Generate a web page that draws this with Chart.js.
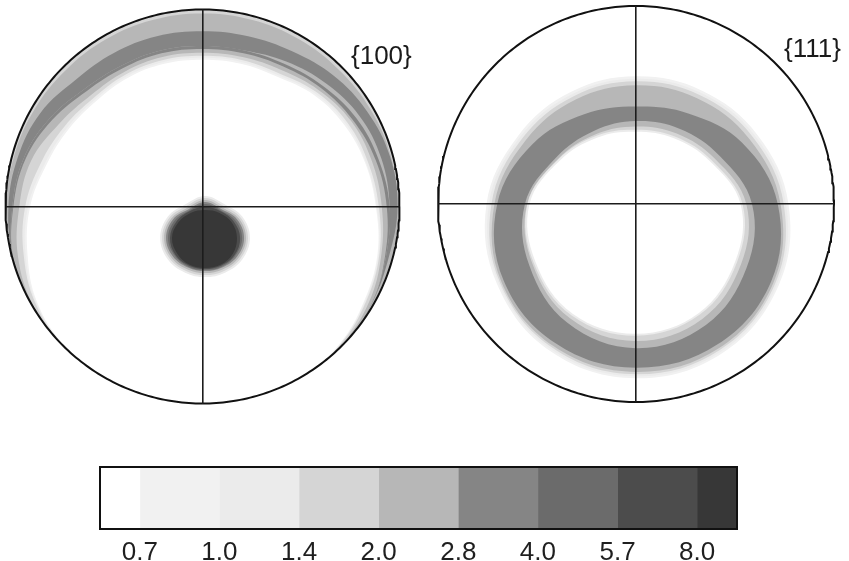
<!DOCTYPE html>
<html><head><meta charset="utf-8">
<script src="https://cdn.jsdelivr.net/npm/chart.js@4.4.1/dist/chart.umd.min.js"></script>
<style>
html,body{margin:0;padding:0;background:#fff;width:849px;height:561px;overflow:hidden;position:relative;}
canvas{position:absolute;}
.lbl{position:absolute;font-family:"Liberation Sans",Arial,sans-serif;font-size:26px;color:#1a1a1a;line-height:1;white-space:nowrap;}
</style></head><body>
<canvas id="pf100" width="420" height="420" style="left:0;top:0"></canvas>
<canvas id="pf111" width="419" height="420" style="left:430px;top:0"></canvas>
<canvas id="cbar" width="740" height="125" style="left:50px;top:455px"></canvas>
<div class="lbl" id="lbl100" style="left:351px;top:42px"></div>
<div class="lbl" id="lbl111" style="left:784px;top:35px"></div>
<script>
// ---------- DATA (radii in % of pole-figure radius, azimuth in degrees, 0 = east, CCW) ----------
const POLE_LABELS = ['{100}', '{111}'];
const LEVEL_LABELS = ['0.7', '1.0', '1.4', '2.0', '2.8', '4.0', '5.7', '8.0'];

const AZ24 = [0,15,30,45,60,75,90,105,120,135,150,165,180,195,210,225,240,255,270,285,300,315,330,345];
const AZ12 = [0,30,60,90,120,150,180,210,240,270,300,330];

// {100}: intensity band along the rim (contour boundaries, outer to inner)
const PF100_EDGE   = [100,100,100,100,100,100,100,100,100,100,100,100,100,100,100,100,100,100,100,100,100,100,100,100];
const PF100_R20OUT = [99.5,99,98.5,98,98,98,98,98,98,98,98.5,99,99.5,99.5,100,100,100,100,100,100,100,100,99.5,99.5];
const PF100_R28    = [99,98.5,96.5,94,91,89.5,89,89.5,90,91,95,97,98.5,99.5,100,100,100,100,100,100,100,100,99,98];
const PF100_R20MID = [95,94,92,88.5,85,82,81.5,82,82.5,84.5,89.5,94,96.5,99.5,100,100,100,100,100,100,100,100,99,96.5];
const PF100_R28B   = [95,92.5,90,86.5,83.5,82,81.5,82,82.5,84.5,89.5,94,96.5,99.5,100,100,100,100,100,100,100,100,99,96.5];
const PF100_R20IN  = [93.5,91,88,85,82,80.5,80,80.5,81,83,88,93,96,99.5,100,100,100,100,100,100,100,100,99,96];
const PF100_R14IN  = [91,89,87,83.5,80,78.5,78,78.5,79,80,84,90,93,97,99.5,100,100,100,100,100,100,99.5,97.5,94];
const PF100_R10IN  = [89.5,87,85,82,78,77,76.5,77,77.5,78,81,85,90,94,98,100,100,100,100,100,100,99,96,93];
const PF100_R07IN  = [88.5,86,84,81,77,76,75.5,76,76.5,77,79.5,83,88.5,93,97.5,99.8,100,100,100,100,100,98.8,95.5,92.5];
const PF100_WHITE  = [88,85.5,83,80,76,75,74.5,75,75.5,76,78.5,82,87.5,92,97,99.5,100,100,100,100,100,98.5,95,92];
// {100}: central maximum (radii around its own centre)
const BLOB_CENTER = [1.3, -16];
const BLOB_R10 = [22.8,21.8,19.8,21.3,19.8,21.8,22.8,21.8,20.3,19.8,20.3,21.8];
const BLOB_R14 = [21.8,20.8,18.8,20.3,18.8,20.8,21.8,20.8,19.3,18.8,19.3,20.8];
const BLOB_R20 = [20.8,19.8,17.8,19.3,17.8,19.8,20.8,19.8,18.3,17.8,18.3,19.8];
const BLOB_R28 = [19.8,18.8,16.8,18.3,16.8,18.8,19.8,18.8,17.3,16.8,17.3,18.8];
const BLOB_R40 = [18.8,17.8,16.2,17.3,16.2,17.8,18.8,17.8,16.8,16.2,16.8,17.8];
const BLOB_R57 = [17.8,16.8,15.7,15.7,15.7,16.8,17.8,17.3,16.2,15.7,16.2,17.3];
const BLOB_R80 = [16.2,15.7,14.7,14.2,14.7,15.7,16.8,16.2,15.7,15.2,15.7,16.2];

// {111}: ring (outer boundaries then inner boundaries)
const PF111_R07  = [77,70.5,66.2,64.5,65.4,68.8,75.5,81,86,88,87,83];
const PF111_R10  = [75.8,69.3,65,63.3,64.2,67.6,74.3,80,85,87,86,82];
const PF111_R14  = [74.6,68,63.7,62,62.9,66.3,73,79.3,84,86,85,81];
const PF111_R20  = [73,66,61.7,60,60.9,64.3,71.5,78.5,83,84.8,84,80];
const PF111_R28  = [71.6,61.9,52.8,49.2,52.3,60.4,70.1,77.2,81.2,82.7,82,78.7];
const PF111_R20IN = [58.6,48.7,43.9,41.9,42.6,46.7,56.1,62.2,69.3,72.8,70.6,64.5];
const PF111_R14IN = [55.7,45.9,41.1,39.2,40.7,45.5,55,60.4,66.7,69.2,67,61.2];
const PF111_R10IN = [53.8,44.1,39.3,37.5,39.8,45.2,54.8,59.6,65,66.5,64.5,58.9];
const PF111_WHITE = [52.8,43.1,38.3,36.5,38.8,44.2,53.8,58.6,64,65.5,63.5,57.9];

// ---------- STYLE ----------
const GRAYS = ['#ffffff','#f1f1f1','#ebebeb','#d5d5d5','#b7b7b7','#858585','#6b6b6b','#4c4c4c','#373737'];
const G = {w:0, l07:1, l10:2, l14:3, l20:4, l28:5, l40:6, l57:7, l80:8};
const FONT = '"Liberation Sans", Arial, sans-serif';

document.getElementById('lbl100').textContent = POLE_LABELS[0];
document.getElementById('lbl111').textContent = POLE_LABELS[1];

// ---------- helpers ----------
function polar(az, r, c) {
  const cx = c ? c[0] / 100 : 0, cy = c ? c[1] / 100 : 0;
  const pts = az.map((a, i) => ({
    x: cx + r[i] / 100 * Math.cos(a * Math.PI / 180),
    y: cy + r[i] / 100 * Math.sin(a * Math.PI / 180)
  }));
  const n = pts.length;
  // wrap so the smoothed curve closes without a seam
  return [pts[n - 1]].concat(pts, [pts[0], pts[1]]);
}
function shape(pts, gray, order) {
  return {data: pts, showLine: true, fill: 'shape', backgroundColor: GRAYS[gray],
          borderWidth: 0, pointRadius: 0, tension: 0.38, order, clip: false};
}
function outline() {
  const pts = [];
  for (let a = 0; a <= 360; a += 1) pts.push({x: Math.cos(a * Math.PI / 180), y: Math.sin(a * Math.PI / 180)});
  return {data: pts, showLine: true, fill: false, borderColor: '#111', borderWidth: 2,
          pointRadius: 0, tension: 0, order: 0, clip: false};
}
function buildDatasets(layers) {
  const n = layers.length;
  const ds = layers.map((L, i) => shape(polar(L.az, L.r, L.c), L.g, n - i + 1));
  ds.push(outline());
  return ds;
}
function poleScale() {
  return {type: 'linear', min: -1, max: 1, display: true,
          grid: {color: '#1c1c1c', lineWidth: 1.6, drawTicks: false, z: 1},
          border: {display: false}, ticks: {display: false},
          afterBuildTicks: s => { s.ticks = [{value: 0}]; }};
}
function poleChart(id, layers, pad) {
  return new Chart(document.getElementById(id), {
    type: 'scatter',
    data: {datasets: buildDatasets(layers)},
    options: {responsive: false, animation: false, events: [],
      layout: {padding: pad},
      plugins: {legend: {display: false}, tooltip: {enabled: false}, title: {display: false}},
      scales: {x: poleScale(), y: poleScale()}}
  });
}

// ---------- {100} ----------
poleChart('pf100', [
  {az: AZ24, r: PF100_EDGE,   g: G.l14},
  {az: AZ24, r: PF100_R20OUT, g: G.l20},
  {az: AZ24, r: PF100_R28,    g: G.l28},
  {az: AZ24, r: PF100_R20MID, g: G.l20},
  {az: AZ24, r: PF100_R28B,   g: G.l28},
  {az: AZ24, r: PF100_R20IN,  g: G.l20},
  {az: AZ24, r: PF100_R14IN,  g: G.l14},
  {az: AZ24, r: PF100_R10IN,  g: G.l10},
  {az: AZ24, r: PF100_R07IN,  g: G.l07},
  {az: AZ24, r: PF100_WHITE,  g: G.w},
  {az: AZ12, r: BLOB_R10, c: BLOB_CENTER, g: G.l10},
  {az: AZ12, r: BLOB_R14, c: BLOB_CENTER, g: G.l14},
  {az: AZ12, r: BLOB_R20, c: BLOB_CENTER, g: G.l20},
  {az: AZ12, r: BLOB_R28, c: BLOB_CENTER, g: G.l28},
  {az: AZ12, r: BLOB_R40, c: BLOB_CENTER, g: G.l40},
  {az: AZ12, r: BLOB_R57, c: BLOB_CENTER, g: G.l57},
  {az: AZ12, r: BLOB_R80, c: BLOB_CENTER, g: G.l80}
], {left: 5.5, top: 9.5, right: 20.5, bottom: 16.5});

// ---------- {111} ----------
poleChart('pf111', [
  {az: AZ12, r: PF111_R07,   g: G.l07},
  {az: AZ12, r: PF111_R10,   g: G.l10},
  {az: AZ12, r: PF111_R14,   g: G.l14},
  {az: AZ12, r: PF111_R20,   g: G.l20},
  {az: AZ12, r: PF111_R28,   g: G.l28},
  {az: AZ12, r: PF111_R20IN, g: G.l20},
  {az: AZ12, r: PF111_R14IN, g: G.l14},
  {az: AZ12, r: PF111_R10IN, g: G.l10},
  {az: AZ12, r: PF111_WHITE, g: G.w}
], {left: 8, top: 6, right: 15, bottom: 18});

// ---------- colour scale ----------
const blocks = GRAYS.map((col, k) => ({
  data: [[k === 0 ? -0.5 : k - 1, k === GRAYS.length - 1 ? LEVEL_LABELS.length - 0.5 : k]],
  backgroundColor: col, borderWidth: 0, grouped: false,
  barPercentage: 1, categoryPercentage: 1
}));
const frame = {display: true, grid: {display: false, drawTicks: false}, ticks: {display: false},
               border: {display: true, color: '#111', width: 2, z: 1}};
new Chart(document.getElementById('cbar'), {
  type: 'bar',
  data: {labels: [''], datasets: blocks},
  options: {indexAxis: 'y', responsive: false, animation: false, events: [],
    layout: {padding: {left: 50, right: 53, top: 12, bottom: 2.6}},
    plugins: {legend: {display: false}, tooltip: {enabled: false}},
    scales: {
      x: {type: 'linear', min: -0.5, max: LEVEL_LABELS.length - 0.5, position: 'bottom',
          grid: {display: false, drawTicks: false},
          border: {display: true, color: '#111', width: 2, z: 1},
          afterBuildTicks: s => { s.ticks = LEVEL_LABELS.map((_, i) => ({value: i})); },
          ticks: {padding: 8.6, maxRotation: 0, autoSkip: false, color: '#1f1f1f',
                  font: {family: FONT, size: 26},
                  callback: (v, i) => LEVEL_LABELS[i]}},
      xTop: Object.assign({type: 'linear', min: 0, max: 1, position: 'top'}, frame),
      y: Object.assign({type: 'category', position: 'left'}, frame),
      yRight: Object.assign({type: 'linear', min: 0, max: 1, position: 'right'}, frame)
    }}
});
</script>
</body></html>
